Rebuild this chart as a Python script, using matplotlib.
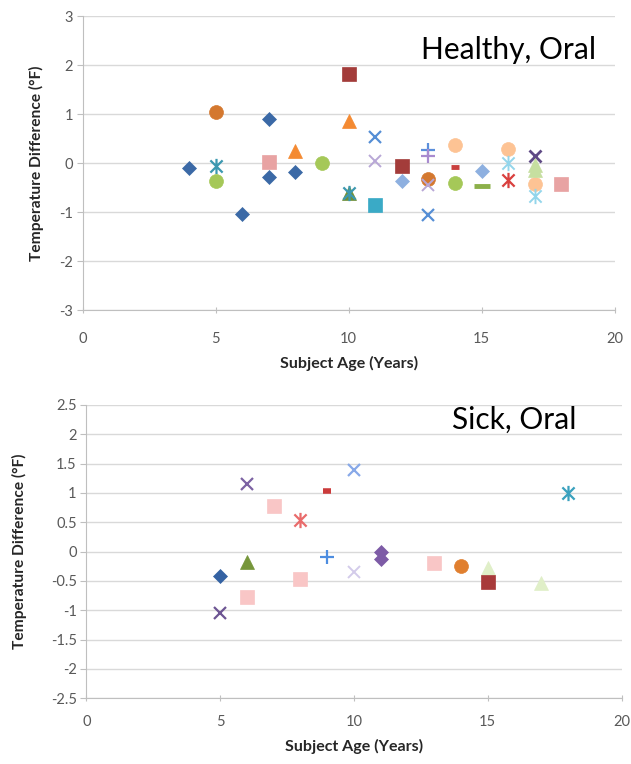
import matplotlib
matplotlib.use('Agg')
import matplotlib.pyplot as plt
from matplotlib.path import Path

# ---- data: healthy, oral ----
healthy_age  = [4, 6, 7, 7, 8,   5, 13,   10,   5, 10,   5, 9, 14,   7, 18,   8, 10,
                10, 12,   11, 13,   11, 13,   11,   12, 15,   13,   13,   14, 16, 17,
                14,   15,   16, 17,   16,   17,   17, 17]
healthy_diff = [-0.09, -1.04, 0.91, -0.29, -0.19,   1.05, -0.33,   -0.60,   -0.06, -0.60,
                -0.36, 0.00, -0.40,   0.02, -0.43,   0.25, 0.86,   1.82, -0.05,   0.53, -1.06,
                0.05, -0.44,   -0.85,   -0.37, -0.17,   0.27,   0.14,   0.36, 0.29, -0.43,
                -0.08,   -0.46,   0.00, -0.68,   -0.34,   0.15,   -0.03, -0.14]
healthy_series = ['H1'] * 5 + ['H2'] * 2 + ['H8'] + ['H3'] * 2 + ['H4'] * 3 + ['H5'] * 2 + \
                 ['H6'] * 2 + ['H7'] * 2 + ['H9'] * 2 + ['H10'] * 2 + ['H11'] + ['H12'] * 2 + \
                 ['H13'] + ['H14'] + ['H15'] * 3 + ['H16'] + ['H17'] + ['H18'] * 2 + ['H19'] + \
                 ['H20'] + ['H21'] * 2

# ---- data: sick, oral ----
sick_age  = [5, 5, 6, 6, 6, 7, 8, 13, 8, 9, 9, 10, 10, 11, 11, 14, 15, 17, 15, 18]
sick_diff = [-0.41, -1.05, 1.15, -0.17, -0.77, 0.78, -0.47, -0.20, 0.54, 1.04, -0.10,
             1.39, -0.34, 0.00, -0.13, -0.25, -0.28, -0.54, -0.51, 1.00]
sick_series = ['S1', 'S2', 'S3', 'S4', 'S5', 'S5', 'S5', 'S5', 'S6', 'S7', 'S8',
               'S9', 'S10', 'S11', 'S11', 'S12', 'S13', 'S13', 'S14', 'S15']

# asterisk marker like Excel's: an x with a vertical bar
AST = Path([(-1, -1), (1, 1), (-1, 1), (1, -1), (0, -1.25), (0, 1.25)],
           [Path.MOVETO, Path.LINETO, Path.MOVETO, Path.LINETO, Path.MOVETO, Path.LINETO])

# series -> (marker, colour, size, filled, edge width)
STYLE = {
    'H1': ('D', '#3B69A6', 6.8, True, 0), 'H2': ('o', '#D4782F', 10, True, 0),
    'H3': (AST, '#3C98B0', 11, False, 1.6), 'H4': ('o', '#A5C858', 10, True, 0),
    'H5': ('s', '#E8A3A3', 10, True, 0), 'H6': ('^', '#F48A32', 9.5, True, 0),
    'H7': ('s', '#A33C3A', 10, True, 0), 'H8': ('^', '#6F8F35', 9.5, True, 0),
    'H9': ('x', '#558ED5', 9, False, 1.6), 'H10': ('x', '#B8A7D6', 9, False, 1.4),
    'H11': ('s', '#3AAAC6', 10, True, 0), 'H12': ('D', '#8EB0E0', 6.8, True, 0),
    'H13': ('+', '#5B8FDB', 10, False, 1.6), 'H14': ('+', '#A98BCF', 10, False, 1.6),
    'H15': ('o', '#FDC394', 10, True, 0), 'H16': ('_', '#C9403E', 6, False, 3.5),
    'H17': ('_', '#8CB04A', 11, False, 3.5), 'H18': (AST, '#93D5EB', 11, False, 1.4),
    'H19': (AST, '#D9403E', 11, False, 1.6), 'H20': ('x', '#5F4A85', 9, False, 2.0),
    'H21': ('^', '#C6DFA0', 9.5, True, 0),
    'S1': ('D', '#3462A3', 6.8, True, 0), 'S2': ('x', '#6D5593', 9, False, 1.6),
    'S3': ('x', '#7C62A3', 9, False, 1.6), 'S4': ('^', '#76963A', 9.5, True, 0),
    'S5': ('s', '#F9C6C6', 10, True, 0), 'S6': (AST, '#E96B6B', 11, False, 1.6),
    'S7': ('_', '#CB3B3B', 6, False, 4), 'S8': ('+', '#4D8DE0', 10, False, 1.6),
    'S9': ('x', '#88A9E8', 9, False, 1.6), 'S10': ('x', '#D3CBEA', 9, False, 1.4),
    'S11': ('D', '#7D5BA6', 6.8, True, 0), 'S12': ('o', '#E07F2F', 10, True, 0),
    'S13': ('^', '#E0EFC8', 9.5, True, 0), 'S14': ('s', '#A83A3A', 10, True, 0),
    'S15': (AST, '#3AA1BE', 11, False, 1.6),
}

FONT = 'Lato'
GRID = '#D9D9D9'
TICK = '#595959'

fig = plt.figure(figsize=(6.31, 7.64), dpi=100)


def panel(rect, ages, diffs, series, ylim, yticks, title, title_xy, xpad):
    ax = fig.add_axes(rect)
    order = list(dict.fromkeys(series))
    for sid in order:
        xs = [a for a, s in zip(ages, series) if s == sid]
        ys = [d for d, s in zip(diffs, series) if s == sid]
        mk, col, ms, filled, mew = STYLE[sid]
        if filled:
            ax.plot(xs, ys, ls='none', marker=mk, ms=ms, mfc=col, mec=col, mew=0.5)
        else:
            ax.plot(xs, ys, ls='none', marker=mk, ms=ms, color=col, mew=mew)
    ax.set_xlim(0, 20)
    ax.set_ylim(*ylim)
    ax.set_xticks([0, 5, 10, 15, 20])
    ax.set_yticks(yticks)
    ax.set_yticklabels(['%g' % v for v in yticks])
    ax.yaxis.grid(True, color=GRID, lw=1.0)
    ax.set_axisbelow(True)
    for s in ['top', 'right']:
        ax.spines[s].set_visible(False)
    ax.spines['left'].set_color('#BFBFBF')
    ax.spines['bottom'].set_color('#BFBFBF')
    ax.tick_params(axis='y', colors='#BFBFBF', length=4, labelcolor=TICK,
                   labelsize=10.5, pad=3)
    ax.tick_params(axis='x', colors='#BFBFBF', length=4, direction='inout',
                   labelcolor=TICK, labelsize=10.5, pad=xpad)
    for lab in ax.get_xticklabels() + ax.get_yticklabels():
        lab.set_family(FONT)
    ax.set_xlabel('Subject Age (Years)', family=FONT, fontweight='bold',
                  fontsize=11.5, color='#262626', labelpad=7)
    ax.set_ylabel('Temperature Difference (°F)', family=FONT, fontweight='bold',
                  fontsize=11.2, color='#262626')
    ax.text(title_xy[0], title_xy[1], title, transform=ax.transAxes, family=FONT,
            fontsize=21.5, ha='center', va='center', color='#000000')
    return ax


ax1 = panel([0.131, 0.594, 0.843, 0.385], healthy_age, healthy_diff, healthy_series,
            (-3, 3), [-3, -2, -1, 0, 1, 2, 3], 'Healthy, Oral', (0.80, 0.885), 14)
ax1.yaxis.set_label_coords(-0.072, 0.5)

ax2 = panel([0.137, 0.086, 0.848, 0.384], sick_age, sick_diff, sick_series,
            (-2.5, 2.5), [-2.5, -2, -1.5, -1, -0.5, 0, 0.5, 1, 1.5, 2, 2.5],
            'Sick, Oral', (0.80, 0.949), 10)
ax2.yaxis.set_label_coords(-0.112, 0.5)

fig.savefig('out.png', dpi=100)
